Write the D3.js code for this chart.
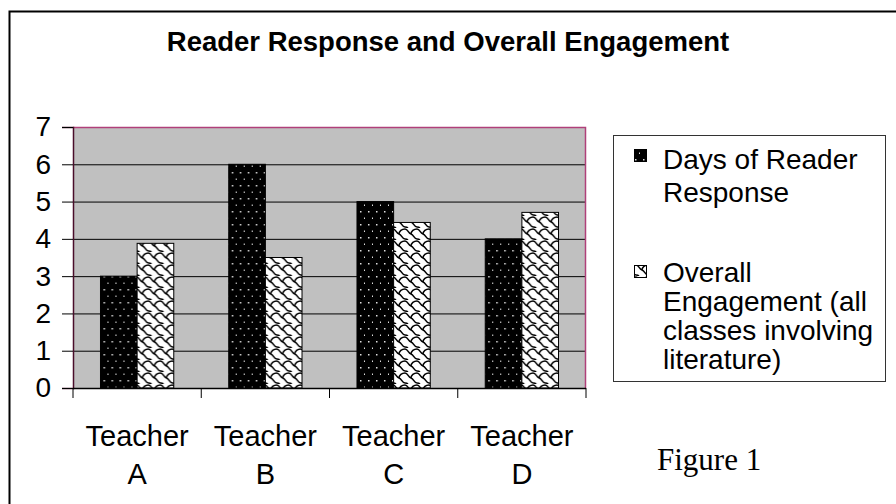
<!DOCTYPE html>
<html>
<head>
<meta charset="utf-8">
<script src="https://cdn.jsdelivr.net/npm/d3@7"></script>
<style>
  body { margin: 0; background: #fff; }
  svg { display: block; font-family: "Liberation Sans", Arial, sans-serif; }
</style>
</head>
<body>
<svg width="896" height="504"></svg>
<script>
// Data
var teachers = ["A", "B", "C", "D"];
var seriesNames = ["Days of Reader Response", "Overall Engagement (all classes involving literature)"];
var readerDays = [3, 6, 5, 4];
var engagement = [3.88, 3.5, 4.44, 4.71];
var yTicks = [0, 1, 2, 3, 4, 5, 6, 7];

var svg = d3.select("svg");

// Plot area
var plot = { left: 73, right: 586, top: 127, bottom: 388 };

// Patterns
var defs = svg.append("defs");
var dots = defs.append("pattern")
    .attr("id", "dots")
    .attr("patternUnits", "userSpaceOnUse")
    .attr("width", 8).attr("height", 13);
dots.append("rect").attr("width", 8).attr("height", 13).attr("fill", "#000");
dots.append("rect").attr("x", 3).attr("y", 3).attr("width", 1.5).attr("height", 1.5).attr("fill", "#e0e0e0");
dots.append("rect").attr("x", 7).attr("y", 9.5).attr("width", 1.5).attr("height", 1.5).attr("fill", "#e0e0e0");

var shingle = defs.append("pattern")
    .attr("id", "shingle")
    .attr("patternUnits", "userSpaceOnUse")
    .attr("width", 12).attr("height", 12);
shingle.append("rect").attr("width", 12).attr("height", 12).attr("fill", "#fff");
shingle.append("path")
    .attr("d", "M0,1 C3,1 3,5 6,6 C9,7 9,11 12,11 M6,6 C6,3 9,1 12,1 M0,11 C2,11 3,12 3,12")
    .attr("fill", "none").attr("stroke", "#000").attr("stroke-width", 1.5);

var fills = ["url(#dots)", "url(#shingle)"];

// Outer frame
svg.append("rect")
    .attr("x", 9.5).attr("y", 11.5)
    .attr("width", 900).attr("height", 520)
    .attr("fill", "none").attr("stroke", "#000").attr("stroke-width", 2);

// Title
svg.append("text")
    .attr("x", 448).attr("y", 51)
    .attr("text-anchor", "middle")
    .attr("font-weight", "bold")
    .attr("font-size", 27.5)
    .text("Reader Response and Overall Engagement");

// Scales
var x0 = d3.scaleBand()
    .domain(teachers)
    .range([plot.left, plot.right])
    .paddingInner(1.5 / 3.5)
    .paddingOuter(0.75 / 3.5);

var x1 = d3.scaleBand()
    .domain([0, 1])
    .range([0, x0.bandwidth()]);

var y = d3.scaleLinear()
    .domain([0, 7])
    .range([plot.bottom, plot.top]);

// Background
svg.append("rect")
    .attr("x", plot.left).attr("y", plot.top)
    .attr("width", plot.right - plot.left)
    .attr("height", plot.bottom - plot.top)
    .attr("fill", "#c0c0c0");

// Gridlines
svg.append("g")
    .selectAll("line")
    .data(yTicks.filter(d => d > 0 && d < 7))
    .enter().append("line")
    .attr("x1", plot.left).attr("x2", plot.right)
    .attr("y1", d => y(d) + 0.5).attr("y2", d => y(d) + 0.5)
    .attr("stroke", "#000").attr("stroke-width", 1);

// Plot border (top/right)
svg.append("path")
    .attr("d", "M" + plot.left + "," + (plot.top + 0.5) + "H" + (plot.right - 0.5) + "V" + plot.bottom)
    .attr("fill", "none").attr("stroke", "#b0407a").attr("stroke-width", 1.5);

// Bars
var rows = teachers.map(function(t, i) {
    return { teacher: t, values: [readerDays[i], engagement[i]] };
});

svg.append("g")
    .selectAll("g")
    .data(rows)
    .enter().append("g")
    .attr("transform", d => "translate(" + x0(d.teacher) + ",0)")
    .selectAll("rect")
    .data(d => d.values.map((v, k) => ({ k: k, v: v })))
    .enter().append("rect")
    .attr("x", d => x1(d.k))
    .attr("y", d => y(d.v))
    .attr("width", x1.bandwidth())
    .attr("height", d => y(0) - y(d.v))
    .attr("fill", d => fills[d.k])
    .attr("stroke", "#000").attr("stroke-width", 1);

// Y axis
var yAxis = svg.append("g")
    .attr("transform", "translate(" + plot.left + ",0)")
    .call(d3.axisLeft(y).tickValues(yTicks).tickSize(11).tickPadding(11).tickFormat(d3.format("d")));
yAxis.select(".domain").attr("stroke", "#4a0d2a").attr("stroke-width", 1.5);
yAxis.selectAll("text").attr("font-size", 28).attr("fill", "#000")
    .attr("font-family", "'Liberation Sans', Arial, sans-serif");
yAxis.selectAll(".tick line").attr("stroke", "#000");

// X axis line and ticks at category boundaries
var step = x0.step();
var bounds = d3.range(teachers.length + 1).map(i => plot.left + i * step);
svg.append("line")
    .attr("x1", plot.left).attr("x2", plot.right)
    .attr("y1", plot.bottom + 0.5).attr("y2", plot.bottom + 0.5)
    .attr("stroke", "#000").attr("stroke-width", 1.5);
svg.append("g")
    .selectAll("line")
    .data(bounds)
    .enter().append("line")
    .attr("x1", d => d).attr("x2", d => d)
    .attr("y1", plot.bottom).attr("y2", plot.bottom + 10)
    .attr("stroke", "#000").attr("stroke-width", 1);

// X labels
var xl = svg.append("g")
    .selectAll("text")
    .data(teachers)
    .enter().append("text")
    .attr("text-anchor", "middle")
    .attr("font-size", 29)
    .attr("x", d => x0(d) + x0.bandwidth() / 2);
xl.append("tspan").attr("x", d => x0(d) + x0.bandwidth() / 2).attr("y", 446).text("Teacher");
xl.append("tspan").attr("x", d => x0(d) + x0.bandwidth() / 2).attr("y", 484).text(d => d);

// Legend
var legend = svg.append("g");
legend.append("rect")
    .attr("x", 613.5).attr("y", 135.5)
    .attr("width", 272).attr("height", 246)
    .attr("fill", "#fff").attr("stroke", "#333").attr("stroke-width", 1);

var legendLines = [["Days of Reader", "Response"], ["Overall", "Engagement (all", "classes involving", "literature)"]];
var legendTop = [169, 282];
var legendStep = [33, 29];
var swatchY = [149, 265];
legendLines.forEach(function(lines, k) {
    legend.append("rect")
        .attr("x", 634.5).attr("y", swatchY[k] + 0.5)
        .attr("width", 12).attr("height", 12)
        .attr("fill", fills[k]).attr("stroke", "#000").attr("stroke-width", 1);
    var t = legend.append("text").attr("font-size", 28);
    lines.forEach(function(s, j) {
        t.append("tspan").attr("x", 663).attr("y", legendTop[k] + j * legendStep[k]).text(s);
    });
});

// Caption
svg.append("text")
    .attr("x", 657).attr("y", 470)
    .attr("font-family", "'Liberation Serif', 'Times New Roman', serif")
    .attr("font-size", 31)
    .text("Figure 1");
</script>
</body>
</html>
